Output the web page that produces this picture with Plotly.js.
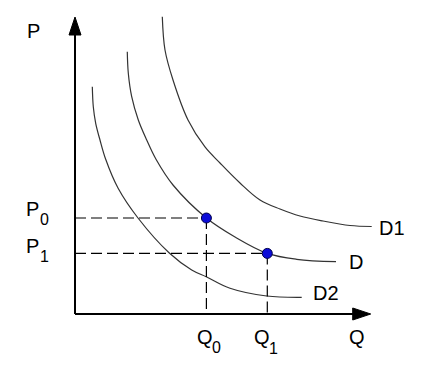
<!DOCTYPE html>
<html>
<head>
<meta charset="utf-8">
<script src="https://cdn.plot.ly/plotly-3.0.1.min.js"></script>
<style>html,body{margin:0;padding:0;background:#fff;}#chart{width:440px;height:369px;}</style>
</head>
<body>
<div id="chart"></div>
<script>
// Demand curve D2 (lower)
var d2X = [0.577, 0.61, 0.69, 0.833, 1.023, 1.433, 2.1, 3.143, 3.89, 4.39, 5.167, 6.39, 7.557];
var d2Y = [7.577, 6.91, 6.357, 5.8, 5.157, 4.2, 3.2, 2.033, 1.467, 1.233, 0.857, 0.6, 0.557];
// Demand curve D (middle)
var dX = [1.743, 1.777, 1.89, 2.11, 2.39, 2.7, 3.267, 4.38, 5.333, 6.41, 7.39, 8.7];
var dY = [8.743, 8.023, 7.243, 6.467, 5.8, 5.157, 4.3, 3.2, 2.567, 2.02, 1.823, 1.743];
// Demand curve D1 (upper)
var d1X = [2.91, 3.0, 3.267, 3.767, 4.333, 4.833, 5.5, 6.167, 6.833, 7.5, 8.267, 9.167, 9.89];
var d1Y = [9.91, 8.8, 7.8, 6.467, 5.567, 5.033, 4.367, 3.8, 3.5, 3.267, 3.1, 2.95, 2.917];
// Equilibrium points
var q0 = 4.38, p0 = 3.2;
var q1 = 6.41, p1 = 2.02;
var pointsX = [q0, q1];
var pointsY = [p0, p1];
// Labels
var curveLabels = ["D1", "D", "D2"];
var axisLabels = ["P", "Q"];
var tickLetters = ["P", "P", "Q", "Q"];
var tickSubs = ["0", "1", "0", "1"];

var curveStyle = {color: '#333333', width: 1.2, shape: 'spline', smoothing: 1};
var dashStyle = {color: '#000000', width: 1.2, dash: '11px,5px'};

var traces = [
  {x: d2X, y: d2Y, mode: 'lines', line: curveStyle, hoverinfo: 'skip'},
  {x: dX, y: dY, mode: 'lines', line: curveStyle, hoverinfo: 'skip'},
  {x: d1X, y: d1Y, mode: 'lines', line: curveStyle, hoverinfo: 'skip'},
  {x: [0, q0], y: [p0, p0], mode: 'lines', line: dashStyle, hoverinfo: 'skip'},
  {x: [q0, q0], y: [p0, 0], mode: 'lines', line: dashStyle, hoverinfo: 'skip'},
  {x: [0, q1], y: [p1, p1], mode: 'lines', line: dashStyle, hoverinfo: 'skip'},
  {x: [q1, q1], y: [p1, 0], mode: 'lines', line: dashStyle, hoverinfo: 'skip'},
  {x: pointsX, y: pointsY, mode: 'markers', hoverinfo: 'skip',
   marker: {size: 10, color: '#0c0cd8', line: {color: '#00004a', width: 1}}}
];

var fam = 'Liberation Sans, Arial, sans-serif';
var font = {family: fam, size: 20, color: '#000'};
var subFont = {family: fam, size: 16, color: '#000'};
function ann(text, x, y, xanchor, f) {
  return {text: text, x: x, y: y, xref: 'x', yref: 'y', showarrow: false,
          xanchor: xanchor || 'left', yanchor: 'middle', font: f || font};
}
var annotations = [
  ann(axisLabels[0], -1.4, 9.43, 'center'),
  ann(axisLabels[1], 9.4, -0.767, 'center'),
  ann(tickLetters[0], -1.7, 3.5),
  ann(tickSubs[0], -1.01, 3.15, 'center', subFont),
  ann(tickLetters[1], -1.7, 2.283),
  ann(tickSubs[1], -1.03, 1.91, 'center', subFont),
  ann(tickLetters[2], 4.333, -0.767, 'center'),
  ann(tickSubs[2], 4.722, -1.117, 'center', subFont),
  ann(tickLetters[3], 6.222, -0.767, 'center'),
  ann(tickSubs[3], 6.6, -1.16, 'center', subFont),
  ann(curveLabels[0], 10.07, 2.88),
  ann(curveLabels[1], 9.05, 1.72),
  ann(curveLabels[2], 7.88, 0.69)
];

var shapes = [
  {type: 'line', x0: 0, y0: 0, x1: 0, y1: 9.4, xref: 'x', yref: 'y', line: {color: '#000', width: 2}},
  {type: 'line', x0: 0, y0: 0, x1: 9.3, y1: 0, xref: 'x', yref: 'y', line: {color: '#000', width: 2}},
  {type: 'path', path: 'M 0 9.9 L -0.2 9.3 L 0.2 9.3 Z', xref: 'x', yref: 'y', fillcolor: '#000', line: {color: '#000', width: 1}},
  {type: 'path', path: 'M 9.857 0 L 9.257 0.2 L 9.257 -0.2 Z', xref: 'x', yref: 'y', fillcolor: '#000', line: {color: '#000', width: 1}}
];

var layout = {
  width: 440, height: 369,
  margin: {l: 0, r: 0, t: 0, b: 0},
  paper_bgcolor: '#fff', plot_bgcolor: '#fff',
  showlegend: false,
  xaxis: {range: [-2.5, 12.1667], visible: false, fixedrange: true},
  yaxis: {range: [-1.8333, 10.4667], visible: false, fixedrange: true},
  annotations: annotations,
  shapes: shapes
};

Plotly.newPlot('chart', traces, layout, {displayModeBar: false, staticPlot: true});
</script>
</body>
</html>
